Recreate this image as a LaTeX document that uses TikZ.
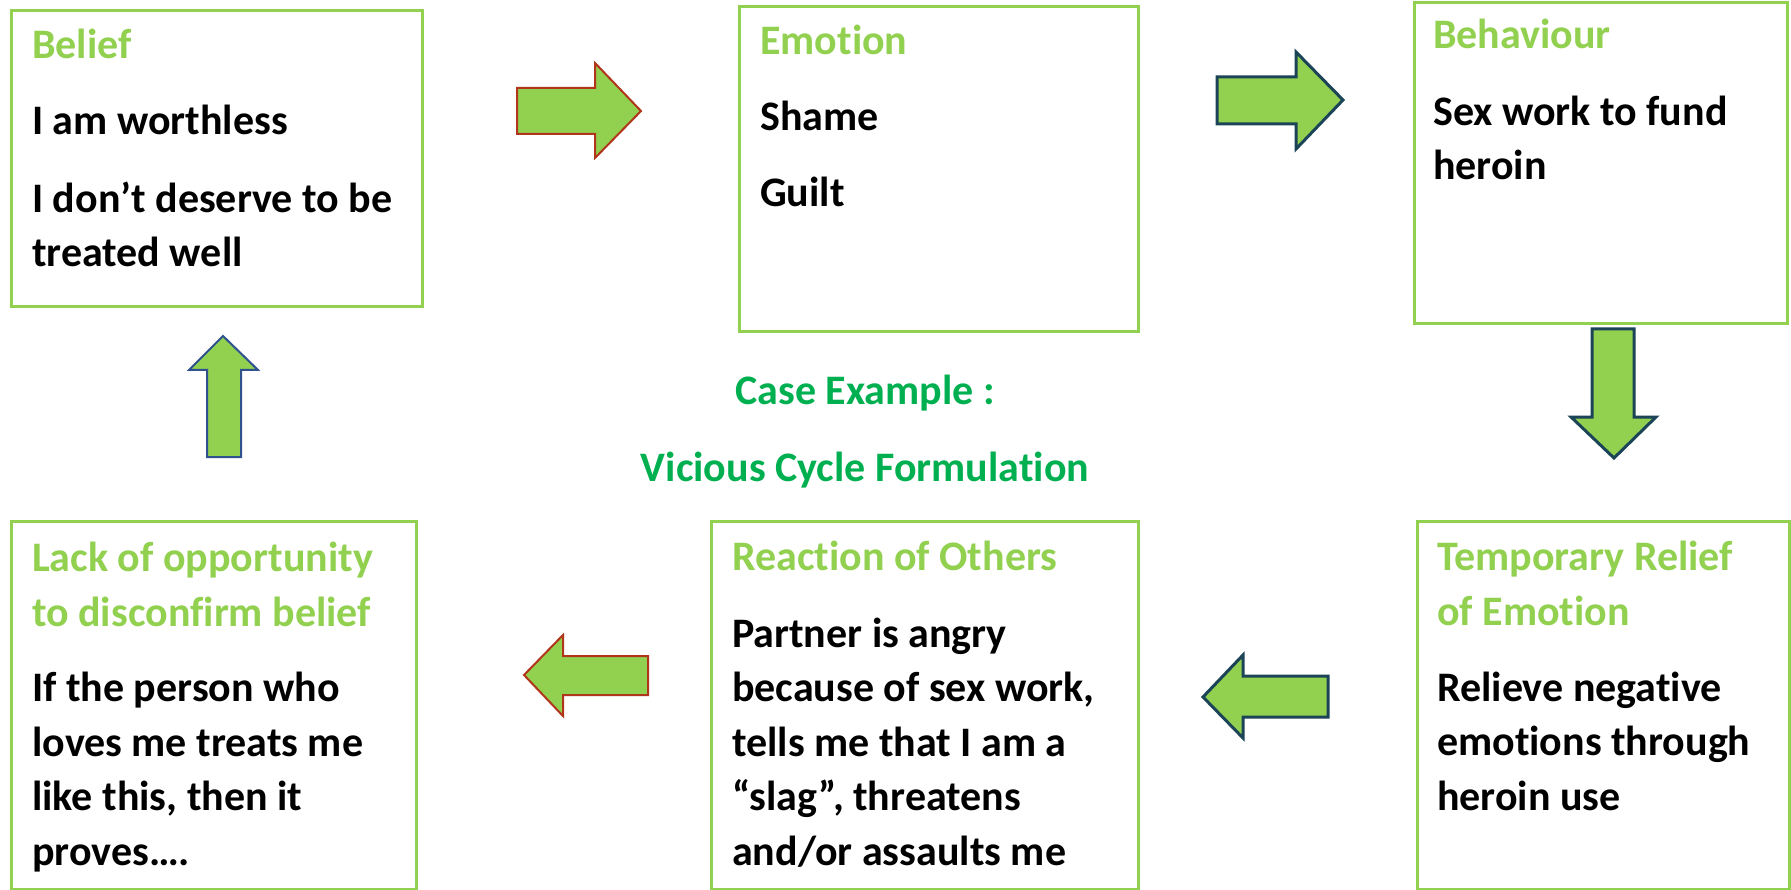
\documentclass[tikz,border=0pt]{standalone}
\usepackage{fontspec}
\setmainfont{Carlito}[Ligatures=NoCommon]
\definecolor{lgreen}{HTML}{92D050}
\definecolor{dgreen}{HTML}{00B050}
\definecolor{rustline}{HTML}{B0351A}
\definecolor{tealline}{HTML}{1B4457}
\definecolor{blueline}{HTML}{2F528F}
\newcommand{\cyclefont}{\fontsize{42}{54.5}\selectfont\bfseries}
\tikzset{
  box/.style={draw=lgreen, line width=2.7pt, inner sep=0pt, anchor=north west},
  % multi-line texts are placed by the baseline of their last line
  head/.style={anchor=base west, inner sep=0pt, text=lgreen, align=left, font=\cyclefont},
  body/.style={anchor=base west, inner sep=0pt, align=left, font=\cyclefont},
  caption/.style={anchor=base, inner sep=0pt, text=dgreen, font=\cyclefont},
  rustarrow/.style={fill=lgreen, draw=rustline, line width=2pt, line join=miter},
  tealarrow/.style={fill=lgreen, draw=tealline, line width=3pt, line join=miter},
  bluearrow/.style={fill=lgreen, draw=blueline, line width=2pt, line join=miter},
}
\begin{document}
\begin{tikzpicture}[x=1pt, y=-1pt]
\fill[white] (0,0) rectangle (1791,890);
\useasboundingbox (0,0) rectangle (1791,890);

% boxes
\node[box, minimum width=411pt, minimum height=296pt] (belief) at (10,9) {};
\node[box, minimum width=399pt, minimum height=325pt] (emotion) at (738,5) {};
\node[box, minimum width=373pt, minimum height=321pt] (behaviour) at (1413,1) {};
\node[box, minimum width=405pt, minimum height=368pt] (lack) at (10,520) {};
\node[box, minimum width=427pt, minimum height=368pt] (reaction) at (710,520) {};
\node[box, minimum width=372pt, minimum height=368pt] (relief) at (1416,520) {};

% box texts
\node[head] (beliefT) at (32,59) {Belief};
\node[body] (beliefA) at (32,135) {I am worthless};
\node[body] (beliefB) at (32,267) {I don’t deserve to be\\treated well};

\node[head] (emotionT) at (760,55) {Emotion};
\node[body] (emotionA) at (760,131) {Shame};
\node[body] (emotionB) at (760,207) {Guilt};

\node[head] (behaviourT) at (1433,49) {Behaviour};
\node[body] (behaviourA) at (1433,180) {Sex work to fund\\heroin};

\node[head] (lackT) at (32,626) {Lack of opportunity\\to disconfirm belief};
\node[body] (lackA) at (32,865) {If the person who\\loves me treats me\\like this, then it\\proves….};

\node[head] (reactionT) at (732,570) {Reaction of Others};
\node[body] (reactionA) at (732,865) {Partner is angry\\because of sex work,\\tells me that I am a\\“slag”, threatens\\and/or assaults me};

\node[head] (reliefT) at (1437,625) {Temporary Relief\\of Emotion};
\node[body] (reliefA) at (1437,810) {Relieve negative\\emotions through\\heroin use};

% centre caption
\node[caption] (capA) at (865,405) {Case Example :};
\node[caption] (capB) at (865,481) {Vicious Cycle Formulation};

% block arrows of the cycle
\draw[rustarrow] (517,88) -- (595,88) -- (595,63) -- (641,111) -- (595,158) -- (595,134) -- (517,134) -- cycle;
\draw[tealarrow] (1217,77) -- (1296,77) -- (1296,52) -- (1343,100) -- (1296,149) -- (1296,124) -- (1217,124) -- cycle;
\draw[tealarrow] (1592,329) -- (1634,329) -- (1634,417) -- (1656,417) -- (1614,458) -- (1571,417) -- (1592,417) -- cycle;
\draw[tealarrow] (1328,676) -- (1243,676) -- (1243,655) -- (1203,697) -- (1243,738) -- (1243,717) -- (1328,717) -- cycle;
\draw[rustarrow] (648,656) -- (563,656) -- (563,635) -- (524,675) -- (563,716) -- (563,695) -- (648,695) -- cycle;
\draw[bluearrow] (207,457) -- (207,370) -- (189,370) -- (223,336) -- (258,370) -- (241,370) -- (241,457) -- cycle;
\end{tikzpicture}
\end{document}
